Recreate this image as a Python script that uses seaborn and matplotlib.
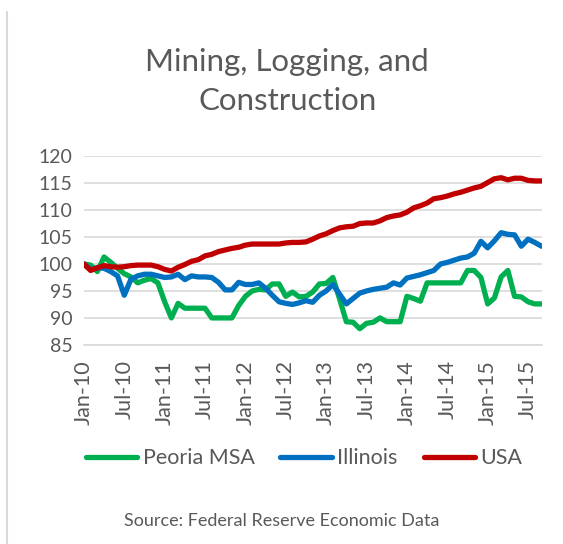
import matplotlib
matplotlib.use("Agg")
import matplotlib.pyplot as plt
import numpy as np
import pandas as pd
import seaborn as sns

# monthly index, Jan-2010 .. Sep-2015 (2010 = 100)
months = pd.date_range("2010-01-01", "2015-09-01", freq="MS")

peoria = [100.0, 99.8, 98.6, 101.3, 100.3, 99.2, 98.2, 97.6, 96.5, 97.0,
          97.3, 96.5, 93.0, 90.0, 92.7, 91.8, 91.8, 91.8, 91.8, 90.0,
          90.0, 90.0, 90.0, 92.3, 94.0, 95.0, 95.3, 95.2, 96.3, 96.3,
          94.0, 94.8, 93.9, 94.0, 94.8, 96.3, 96.4, 97.5, 93.5, 89.3,
          89.2, 88.0, 89.0, 89.2, 90.0, 89.3, 89.3, 89.3, 94.0, 93.6,
          93.1, 96.5, 96.5, 96.5, 96.5, 96.5, 96.5, 98.8, 98.8, 97.5,
          92.6, 93.7, 97.6, 98.8, 94.0, 93.9, 93.0, 92.6, 92.6]

illinois = [100.0, 99.0, 99.3, 99.2, 98.6, 97.8, 94.2, 97.2, 97.8, 98.1,
            98.1, 97.8, 97.5, 97.6, 98.1, 97.1, 97.8, 97.6, 97.6, 97.5,
            96.6, 95.2, 95.2, 96.6, 96.2, 96.2, 96.5, 95.5, 94.2, 93.0,
            92.7, 92.5, 92.8, 93.2, 92.9, 94.2, 95.0, 96.2, 94.4, 92.6,
            93.6, 94.6, 95.0, 95.3, 95.5, 95.7, 96.5, 96.1, 97.4, 97.7,
            98.0, 98.4, 98.8, 100.0, 100.3, 100.7, 101.1, 101.3, 102.0, 104.2,
            103.0, 104.3, 105.8, 105.5, 105.4, 103.3, 104.6, 104.0, 103.3]

usa = [100.0, 98.8, 99.3, 99.7, 99.5, 99.4, 99.5, 99.7, 99.8, 99.8,
       99.8, 99.5, 99.0, 98.7, 99.4, 99.9, 100.5, 100.8, 101.5, 101.8,
       102.3, 102.6, 102.9, 103.1, 103.5, 103.7, 103.7, 103.7, 103.7, 103.7,
       103.9, 104.0, 104.0, 104.1, 104.6, 105.2, 105.6, 106.2, 106.7, 106.9,
       107.0, 107.5, 107.6, 107.6, 108.0, 108.6, 108.9, 109.1, 109.6, 110.4,
       110.8, 111.3, 112.1, 112.3, 112.6, 113.0, 113.3, 113.7, 114.1, 114.4,
       115.1, 115.8, 116.0, 115.6, 115.9, 115.9, 115.5, 115.4, 115.4]

series_names = ["Peoria MSA", "Illinois", "USA"]
series_colors = ["#00B050", "#0070C0", "#C00000"]
tick_labels = ["Jan-10", "Jul-10", "Jan-11", "Jul-11", "Jan-12", "Jul-12",
               "Jan-13", "Jul-13", "Jan-14", "Jul-14", "Jan-15", "Jul-15"]

idx = np.arange(len(months))
df = pd.concat([
    pd.DataFrame({"month": idx, "value": vals, "series": name})
    for name, vals in zip(series_names, [peoria, illinois, usa])
])

sns.set_style("white")
plt.rcParams["font.family"] = ["Lato", "DejaVu Sans"]
txt = "#595959"
grid = "#D9D9D9"

fig = plt.figure(figsize=(5.63, 5.44), dpi=100)
ax = fig.add_axes([0.149, 0.366, 0.814, 0.347])

sns.lineplot(data=df, x="month", y="value", hue="series",
             palette=series_colors, hue_order=series_names,
             linewidth=3.8, ax=ax, legend=False)

ax.set_xlim(0, 68.1)
ax.set_ylim(85, 120)
ax.set_yticks(range(85, 121, 5))
ax.set_xticks(idx[::6])
ax.set_xticklabels(tick_labels, rotation=90)
ax.tick_params(axis="y", length=0, labelsize=14, colors=txt, pad=8)
ax.tick_params(axis="x", length=5, width=1, color=grid, labelsize=15.5,
               labelcolor=txt, pad=6)
ax.grid(axis="y", color=grid, linewidth=1.2)
ax.set_axisbelow(True)
for s in ["top", "right", "left"]:
    ax.spines[s].set_visible(False)
ax.spines["bottom"].set_color(grid)
ax.spines["bottom"].set_linewidth(1.2)
ax.set_xlabel("")
ax.set_ylabel("")

fig.text(0.51, 0.85, "Mining, Logging, and\nConstruction", ha="center",
         va="center", fontsize=22.5, color=txt, linespacing=1.45)

handles = [plt.Line2D([], [], color=c, linewidth=3.8, solid_capstyle="round")
           for c in series_colors]
fig.legend(handles, series_names, loc="center", bbox_to_anchor=(0.54, 0.158),
           ncol=3, frameon=False, fontsize=15.5, handlelength=2.4,
           handletextpad=0.25, columnspacing=1.2, labelcolor=txt)

fig.text(0.50, 0.042, "Source: Federal Reserve Economic Data", ha="center",
         va="center", fontsize=13, color=txt)

fig.add_artist(plt.Line2D([0.0125, 0.0125], [0.0, 0.978],
                          transform=fig.transFigure, color=grid, linewidth=1.5))

fig.savefig("out.png", dpi=100)
